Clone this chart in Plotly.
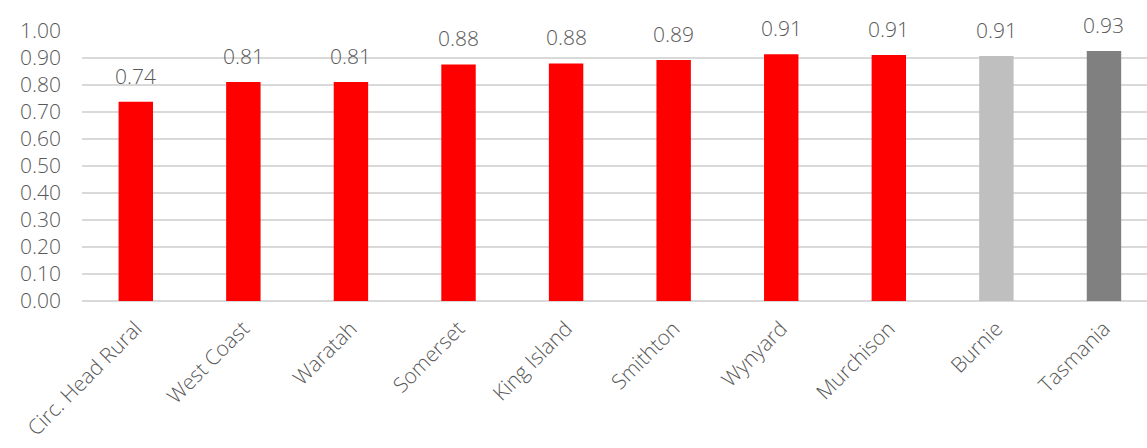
import plotly.graph_objects as go

categories = ["Circ. Head Rural", "West Coast", "Waratah", "Somerset", "King Island",
              "Smithton", "Wynyard", "Murchison", "Burnie", "Tasmania"]
values = [0.738, 0.811, 0.811, 0.876, 0.880, 0.893, 0.914, 0.911, 0.907, 0.926]
colors = ["#FF0000"] * 8 + ["#BFBFBF", "#808080"]
tick_vals = [0.0, 0.1, 0.2, 0.3, 0.4, 0.5, 0.6, 0.7, 0.8, 0.9, 1.0]

font_family = "'Open Sans', sans-serif"
grey = "#595959"
fsize = 21

fig = go.Figure(go.Bar(
    x=categories, y=values,
    marker=dict(color=colors, line=dict(width=0)),
    width=0.32,
    cliponaxis=False,
))

for c, v in zip(categories, values):
    fig.add_annotation(
        x=c, y=v, text=f"{v:.2f}", showarrow=False,
        xanchor="center", yanchor="bottom", yshift=10,
        font=dict(size=fsize, color=grey, family=font_family, weight=300),
    )

fig.update_layout(
    width=1147, height=448,
    margin=dict(l=82, r=0, t=31, b=147),
    plot_bgcolor="white", paper_bgcolor="white",
    showlegend=False,
    font=dict(family=font_family, color=grey, size=fsize, weight=300),
)
fig.update_xaxes(
    range=[-0.5, 9.4],
    tickangle=-45,
    tickfont=dict(size=fsize, color=grey, family=font_family, weight=300),
    showgrid=False, showline=False, ticks="outside", ticklen=6, tickcolor="rgba(0,0,0,0)",
)
fig.update_yaxes(
    range=[0, 1.0],
    tickvals=tick_vals,
    ticktext=[f"{v:.2f}" for v in tick_vals],
    tickfont=dict(size=fsize, color=grey, family=font_family, weight=300),
    ticklabelstandoff=20,
    showgrid=True, gridcolor="#D9D9D9", gridwidth=1.5,
    zeroline=True, zerolinecolor="#D9D9D9", zerolinewidth=1.5,
    showline=False, ticks="", ticklen=0,
)

fig.write_html("out.html")
